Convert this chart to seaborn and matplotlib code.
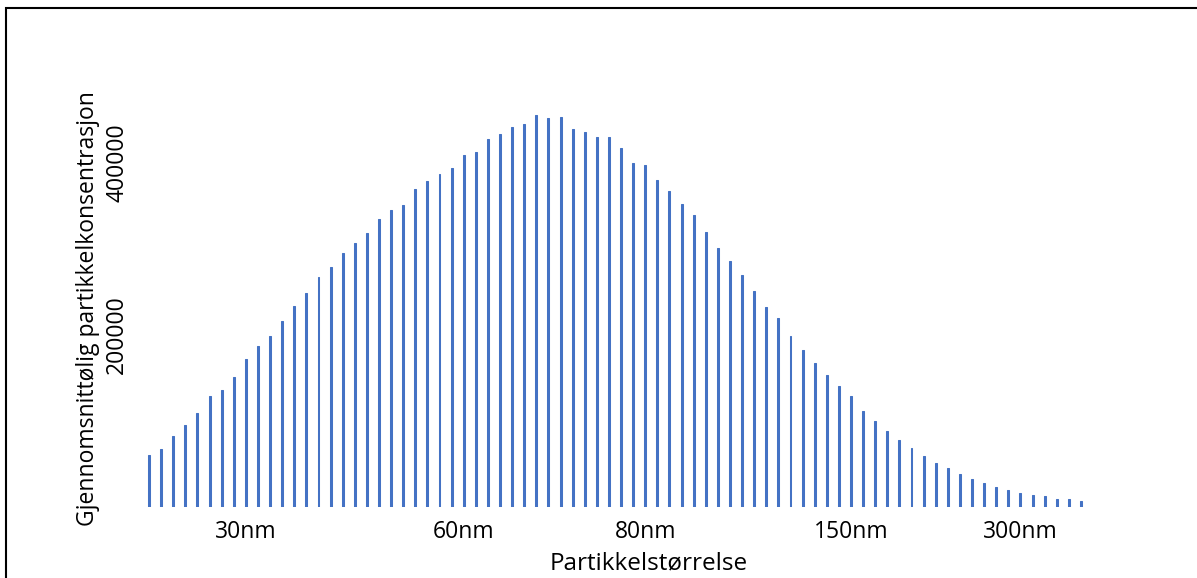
import matplotlib
matplotlib.use("Agg")
import matplotlib.pyplot as plt
import seaborn as sns
import pandas as pd
from matplotlib.patches import Rectangle

# ---- data ----
bins = list(range(1, 79))
concentration = [
    60900, 67900, 82200, 95000, 109800, 129500, 136500, 150800, 172600, 187200,
    198500, 216700, 234200, 248500, 267900, 278700, 295000, 307400, 318600, 334500,
    345400, 350800, 370200, 379500, 387700, 393800, 409300, 413300, 427600, 434200,
    441500, 445800, 455500, 452000, 453100, 439200, 435700, 430200, 430200, 417100,
    400000, 398100, 379900, 367900, 352000, 339200, 319800, 300800, 286500, 269800,
    251200, 233000, 219400, 198500, 183000, 167100, 154000, 140400, 129100, 111300,
    100500, 88800, 78400, 68300, 59300, 51600, 45000, 38400, 32600, 27600,
    22900, 19800, 16700, 14400, 12400, 9300, 9000, 6600,
]
labelled_bins = [9, 27, 42, 59, 73]
size_labels = ["30nm", "60nm", "80nm", "150nm", "300nm"]
y_ticks = [200000, 400000]
y_tick_labels = ["200000", "400000"]
x_title = "Partikkelstørrelse"
y_title = "Gjennomsnittølig partikkelkonsentrasjon"

df = pd.DataFrame({"bin": bins, "conc": concentration})

sns.set_theme(style="white")
plt.rcParams["font.family"] = ["Open Sans", "DejaVu Sans"]

W, H = 1197, 578
fig = plt.figure(figsize=(W / 100, H / 100), dpi=100)
fig.patch.set_facecolor("white")

left, right, top, bottom = 143, 1087, 77, 507
ax = fig.add_axes([left / W, 1 - bottom / H, (right - left) / W, (bottom - top) / H])

bar_color = "#4472C4"
sns.barplot(data=df, x="bin", y="conc", order=bins, color=bar_color,
            saturation=1, width=0.16, errorbar=None, ax=ax,
            edgecolor=bar_color, linewidth=0.75)

ax.set_xlim(-0.5, len(bins) - 0.5)
ax.set_ylim(0, 500000)

pos = [bins.index(b) for b in labelled_bins]
ax.set_xticks(pos)
ax.set_xticklabels(size_labels, fontsize=16.5, color="#000000")
ax.set_yticks(y_ticks)
ax.set_yticklabels(y_tick_labels, fontsize=16.5, color="#000000",
                   rotation=90, va="center")
ax.tick_params(axis="x", length=0, pad=9)
ax.tick_params(axis="y", length=0, pad=10)
for s in ax.spines.values():
    s.set_visible(False)
ax.set_facecolor("white")

ax.set_xlabel(x_title, fontsize=17.5, color="#000000")
ax.set_ylabel(y_title, fontsize=16.5, color="#000000")
ax.xaxis.set_label_coords((649 - left) / (right - left), -(563 - bottom) / (bottom - top))
ax.xaxis.label.set_va("center")
ax.yaxis.set_label_coords((88 - left) / (right - left), (bottom - 309) / (bottom - top))
ax.yaxis.label.set_va("center")

# outer chart frame (right and bottom edges lie outside the canvas)
fig.add_artist(Rectangle((6 / W, -0.2), 1.3, 1.2 - 8 / H, transform=fig.transFigure,
                         fill=False, edgecolor="black", linewidth=1.5, clip_on=False))

fig.savefig("out.png", dpi=100)
